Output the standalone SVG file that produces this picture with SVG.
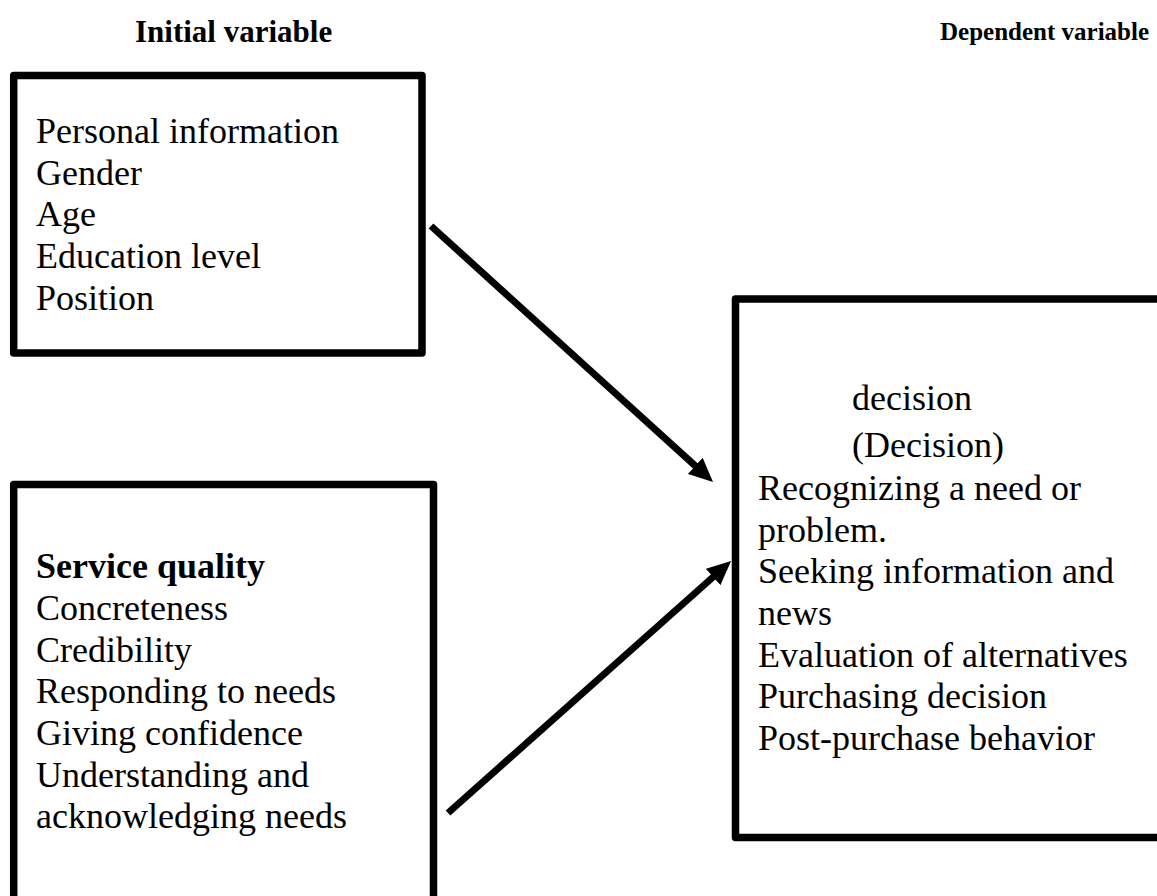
<svg xmlns="http://www.w3.org/2000/svg" width="1157" height="896" viewBox="0 0 1157 896">
<style>
.box{fill:#fff;stroke:#000;stroke-width:7.5;stroke-linejoin:round}
.t{font-family:"Liberation Serif","Times New Roman",serif;font-size:36px;fill:#000}
.b{font-weight:bold}
.h{font-family:"Liberation Serif","Times New Roman",serif;font-weight:bold;fill:#000}
.conn{stroke:#000;stroke-width:7;fill:none}
</style>
<defs>
<marker id="ah" viewBox="0 0 24 22" refX="6" refY="11" markerWidth="24" markerHeight="22" markerUnits="userSpaceOnUse" orient="auto">
<path d="M0,0 L24,11 L0,22 z" fill="#000"/>
</marker>
</defs>
<rect width="1157" height="896" fill="#fff"/>
<g id="headers">
<text class="h" x="135" y="42" font-size="31">Initial variable</text>
<text class="h" x="940" y="40" font-size="25">Dependent variable</text>
</g>
<g id="node-personal">
<rect class="box" x="13.7" y="75.5" width="408.3" height="277.5"/>
<text class="t" x="36" y="143">Personal information</text>
<text class="t" x="36" y="185">Gender</text>
<text class="t" x="36" y="226">Age</text>
<text class="t" x="36" y="268">Education level</text>
<text class="t" x="36" y="310">Position</text>
</g>
<g id="node-service">
<rect class="box" x="13.7" y="484.5" width="419.8" height="430"/>
<text class="t b" x="36" y="578">Service quality</text>
<text class="t" x="36" y="620">Concreteness</text>
<text class="t" x="36" y="662">Credibility</text>
<text class="t" x="36" y="703">Responding to needs</text>
<text class="t" x="36" y="745">Giving confidence</text>
<text class="t" x="36" y="787">Understanding and</text>
<text class="t" x="36" y="828">acknowledging needs</text>
</g>
<g id="node-decision">
<rect class="box" x="735.5" y="299" width="440" height="538.5"/>
<text class="t" x="852" y="410">decision</text>
<text class="t" x="852" y="457">(Decision)</text>
<text class="t" x="758" y="500">Recognizing a need or</text>
<text class="t" x="758" y="542">problem.</text>
<text class="t" x="758" y="583">Seeking information and</text>
<text class="t" x="758" y="625">news</text>
<text class="t" x="758" y="667">Evaluation of alternatives</text>
<text class="t" x="758" y="708">Purchasing decision</text>
<text class="t" x="758" y="750">Post-purchase behavior</text>
</g>
<g id="connectors">
<line class="conn" x1="431" y1="226" x2="699.7" y2="469.9" marker-end="url(#ah)"/>
<line class="conn" x1="448" y1="813" x2="717.6" y2="573" marker-end="url(#ah)"/>
</g>
</svg>
